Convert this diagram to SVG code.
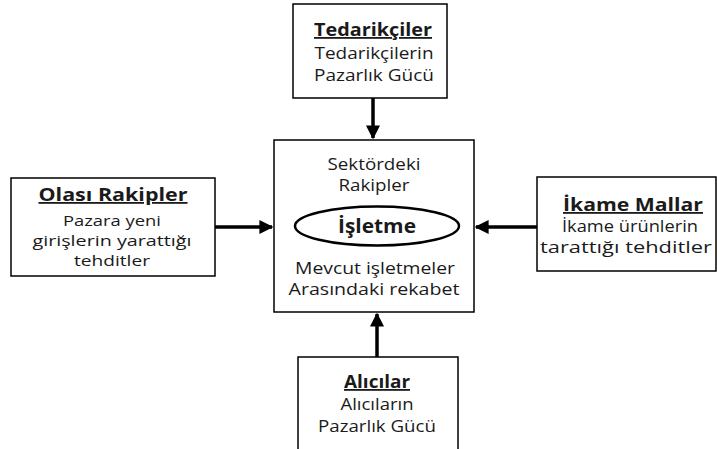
<svg xmlns="http://www.w3.org/2000/svg" width="717" height="449" viewBox="0 0 717 449">
<defs>
<style>
.box{fill:#fff;stroke:#000;stroke-width:1.5}
.t{font-family:"Open Sans","Noto Sans","DejaVu Sans",sans-serif;font-size:16px;fill:#1a1a1a;text-anchor:middle}
.s{font-size:14.5px}
.h{font-weight:bold;font-size:18px;text-decoration:underline}
.c{stroke:#000;stroke-width:3.5;fill:none}
</style>
<marker id="ah" viewBox="0 0 10 10" refX="9" refY="5" markerWidth="4" markerHeight="4" markerUnits="strokeWidth" orient="auto">
<path d="M0,0 L10,5 L0,10 z" fill="#000"/>
</marker>
</defs>
<rect width="717" height="449" fill="#fff"/>
<g id="connectors">
<line class="c" x1="373" y1="98" x2="373" y2="138" marker-end="url(#ah)"/>
<line class="c" x1="215" y1="227" x2="272" y2="227" marker-end="url(#ah)"/>
<line class="c" x1="537" y1="227" x2="476" y2="227" marker-end="url(#ah)"/>
<line class="c" x1="377" y1="357" x2="377" y2="314" marker-end="url(#ah)"/>
</g>
<g id="center">
<rect class="box" x="274" y="140" width="200" height="172"/>
<text class="t" x="374" y="170" textLength="93" lengthAdjust="spacingAndGlyphs">Sektördeki</text>
<text class="t" x="374" y="191" textLength="71" lengthAdjust="spacingAndGlyphs">Rakipler</text>
<ellipse cx="377" cy="226" rx="82" ry="19.5" fill="none" stroke="#000" stroke-width="2.5"/>
<text class="t" x="377" y="233" style="font-weight:bold;font-size:19px" textLength="78" lengthAdjust="spacingAndGlyphs">İşletme</text>
<text class="t" x="375" y="274" textLength="160" lengthAdjust="spacingAndGlyphs">Mevcut işletmeler</text>
<text class="t" x="374" y="295" textLength="171" lengthAdjust="spacingAndGlyphs">Arasındaki rekabet</text>
</g>
<g id="tedarikciler">
<rect class="box" x="293" y="4" width="154" height="94"/>
<text class="t h" x="373" y="36" textLength="118" lengthAdjust="spacingAndGlyphs">Tedarikçiler</text>
<text class="t" x="374" y="59" textLength="119" lengthAdjust="spacingAndGlyphs">Tedarikçilerin</text>
<text class="t" x="374" y="81" textLength="120" lengthAdjust="spacingAndGlyphs">Pazarlık Gücü</text>
</g>
<g id="olasi">
<rect class="box" x="11" y="178" width="204" height="98"/>
<text class="t h" x="113" y="201" textLength="149" lengthAdjust="spacingAndGlyphs">Olası Rakipler</text>
<text class="t s" x="112" y="226" textLength="98" lengthAdjust="spacingAndGlyphs">Pazara yeni</text>
<text class="t s" x="112" y="246" textLength="159" lengthAdjust="spacingAndGlyphs">girişlerin yarattığı</text>
<text class="t s" x="112" y="266" textLength="76" lengthAdjust="spacingAndGlyphs">tehditler</text>
</g>
<g id="ikame">
<rect class="box" x="537" y="177" width="179" height="94"/>
<text class="t h" x="633" y="211" textLength="140" lengthAdjust="spacingAndGlyphs">İkame Mallar</text>
<text class="t" x="630" y="232" textLength="136" lengthAdjust="spacingAndGlyphs">İkame ürünlerin</text>
<text class="t" x="626" y="253" textLength="172" lengthAdjust="spacingAndGlyphs">tarattığı tehditler</text>
</g>
<g id="alicilar">
<rect class="box" x="298" y="357" width="160" height="100"/>
<text class="t h" x="377" y="388" textLength="66" lengthAdjust="spacingAndGlyphs">Alıcılar</text>
<text class="t" x="377" y="410" textLength="73" lengthAdjust="spacingAndGlyphs">Alıcıların</text>
<text class="t" x="377" y="432" textLength="118" lengthAdjust="spacingAndGlyphs">Pazarlık Gücü</text>
</g>
</svg>
